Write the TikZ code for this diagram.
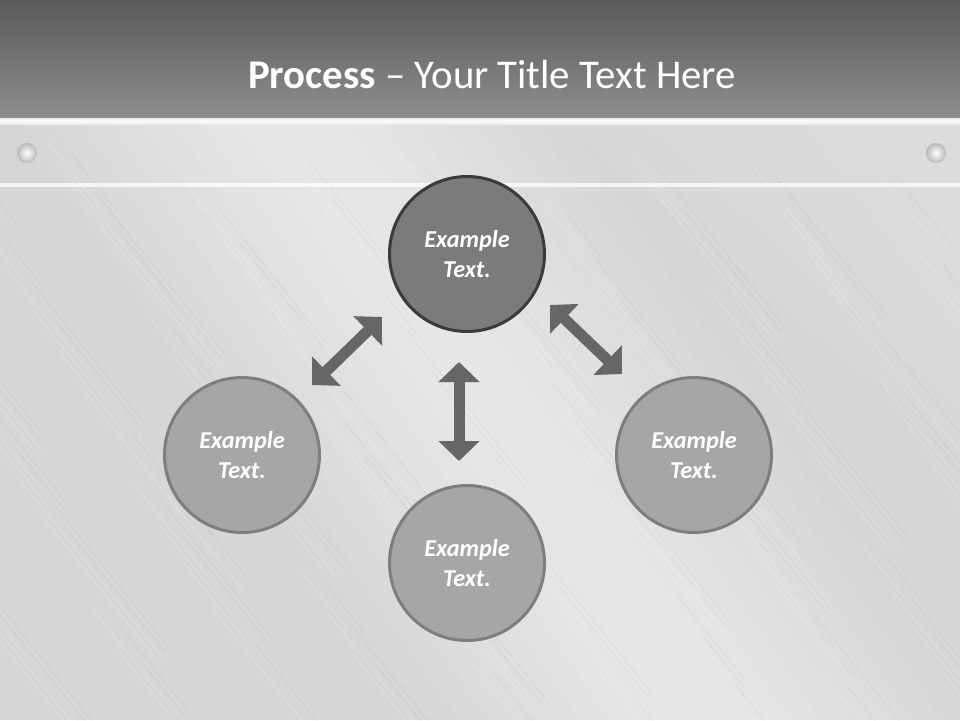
\documentclass[tikz,border=0pt]{standalone}
\usepackage{fontspec}
\setmainfont{Carlito}
\usetikzlibrary{arrows.meta}
\definecolor{hdtop}{HTML}{5A5A5C}
\definecolor{hdbot}{HTML}{8E8E8E}
\definecolor{metal}{HTML}{D6D6D6}
\definecolor{metallt}{HTML}{EEEEEE}
\definecolor{darkfill}{HTML}{7B7B7B}
\definecolor{darkrim}{HTML}{3B3B3B}
\definecolor{lightfill}{HTML}{A6A6A6}
\definecolor{lightrim}{HTML}{7E7E7E}
\definecolor{arrowgray}{HTML}{666666}
\tikzset{
	stepcircle/.style={circle, minimum size=3.1cm, inner sep=0pt, line width=0.06cm,
		draw=lightrim, fill=lightfill, text=white, align=center,
		font=\fontsize{13.8}{16.6}\selectfont\bfseries\itshape},
	maincircle/.style={stepcircle, draw=darkrim, fill=darkfill},
	dblarrow/.style={arrowgray, line width=0.22cm,
		{Triangle[width=0.8cm,length=0.4cm]}-{Triangle[width=0.8cm,length=0.4cm]}},
	rivet/.style={inner color=white, outer color=gray!55}
}
\begin{document}
\begin{tikzpicture}[x=0.02cm,y=-0.02cm]
		% background
		\useasboundingbox (0,0) rectangle (960,720);
		\fill[metal] (0,118) rectangle (960,720);
		\foreach \w in {30,60,...,270}
		\fill[white, opacity=0.07] (290-\w,118) -- (290+\w,118) -- (700+\w,720) -- (700-\w,720) -- cycle;
		\foreach \w in {40,80,...,200}
		\fill[white, opacity=0.05] (960,118) -- (960-\w*2,118) -- (960,250+\w) -- cycle;
		\foreach \i in {0,...,140}
		{
			\pgfmathsetmacro\sx{mod(\i*97,1500)-520}
			\pgfmathsetmacro\sl{40+mod(\i*53,160)}
			\pgfmathsetmacro\sy{125+mod(\i*89,560)}
			\draw[white, opacity=0.35, line width=0.01cm] (\sx+\sy*0.8,\sy) -- ++(\sl*0.8,\sl);
			\draw[black, opacity=0.06, line width=0.01cm] (\sx+\sy*0.8+23,\sy+11) -- ++(\sl*0.7,\sl*0.875);
		}
		\shade[top color=hdtop, bottom color=hdbot] (0,0) rectangle (960,118);
		\fill[metallt] (0,118) rectangle (960,125);
		\fill[white, opacity=0.6] (0,120) rectangle (960,123);
		\fill[white, opacity=0.75] (0,183) rectangle (960,187);
		\shade[rivet] (27,153) circle (10);
		\shade[rivet] (936,153) circle (10);
		% title
		\node[anchor=base, text=white, font=\fontsize{23.2}{28}\selectfont] (title) at (492,88)
			{\textbf{Process} -- Your Title Text Here};
		% circles
		\node[maincircle] (top) at (467,254) {Example\\Text.};
		\node[stepcircle] (left) at (242,455) {Example\\Text.};
		\node[stepcircle] (right) at (694,455) {Example\\Text.};
		\node[stepcircle] (bottom) at (467,563) {Example\\Text.};
		% arrow ends
		\coordinate (lt) at ([shift={(-85,63)}]top.center);
		\coordinate (ll) at ([shift={(70,-70)}]left.center);
		\coordinate (rt) at ([shift={(83,51)}]top.center);
		\coordinate (rr) at ([shift={(-72,-81)}]right.center);
		\coordinate (bt) at ([shift={(-8,108)}]top.center);
		\coordinate (bb) at ([shift={(-8,-102)}]bottom.center);
		% arrows
		\draw[dblarrow] (lt) -- (ll);
		\draw[dblarrow] (rt) -- (rr);
		\draw[dblarrow] (bt) -- (bb);
\end{tikzpicture}
\end{document}
